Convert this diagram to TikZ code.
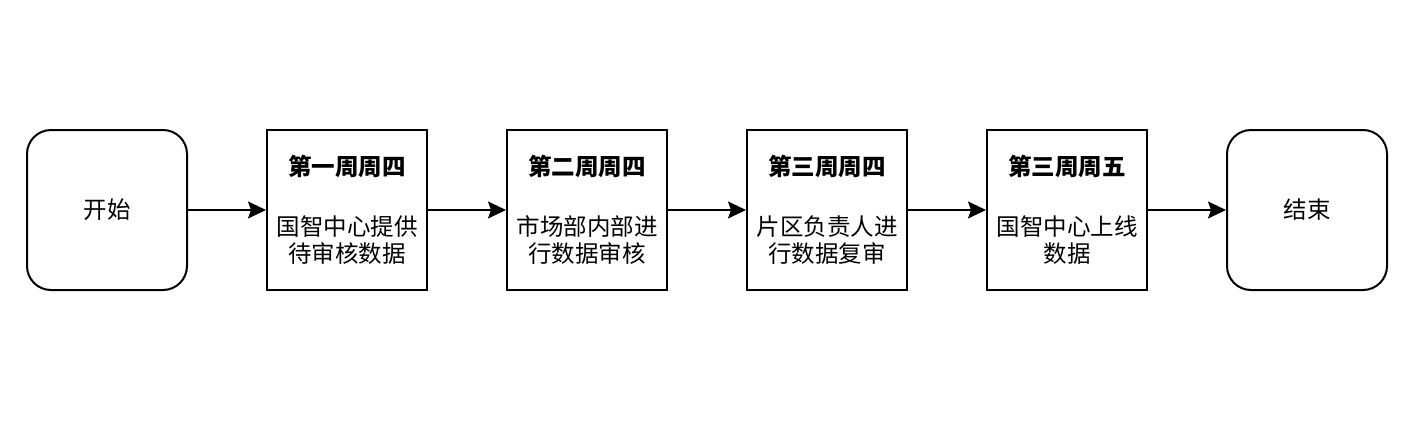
\documentclass[tikz,border=0pt]{standalone}
\usepackage{fontspec}
\setmainfont{Noto Sans CJK SC}
\usetikzlibrary{arrows.meta}
\begin{document}
\begin{tikzpicture}[x=1pt,y=-1pt,
  box/.style={draw=black, line width=2pt, fill=white, minimum width=160pt, minimum height=160pt, inner sep=0pt, align=center, font=\fontsize{23.5pt}{27pt}\selectfont},
  term/.style={box, rounded corners=24pt},
  conn/.style={line width=2pt, -{Stealth[length=18pt,width=17pt,inset=3pt]}}]
\fill[white] (0,0) rectangle (1428,421);
\useasboundingbox (0,0) rectangle (1428,421);
\node[term] (s) at (107,210) {开始};
\node[box] (b1) at (347,210) {\textbf{第一周周四}\\[33pt]国智中心提供\\待审核数据};
\node[box] (b2) at (587,210) {\textbf{第二周周四}\\[33pt]市场部内部进\\行数据审核};
\node[box] (b3) at (827,210) {\textbf{第三周周四}\\[33pt]片区负责人进\\行数据复审};
\node[box] (b4) at (1067,210) {\textbf{第三周周五}\\[33pt]国智中心上线\\数据};
\node[term] (e) at (1307,210) {结束};
\draw[conn] (s) -- (b1);
\draw[conn] (b1) -- (b2);
\draw[conn] (b2) -- (b3);
\draw[conn] (b3) -- (b4);
\draw[conn] (b4) -- (e);
\end{tikzpicture}
\end{document}
